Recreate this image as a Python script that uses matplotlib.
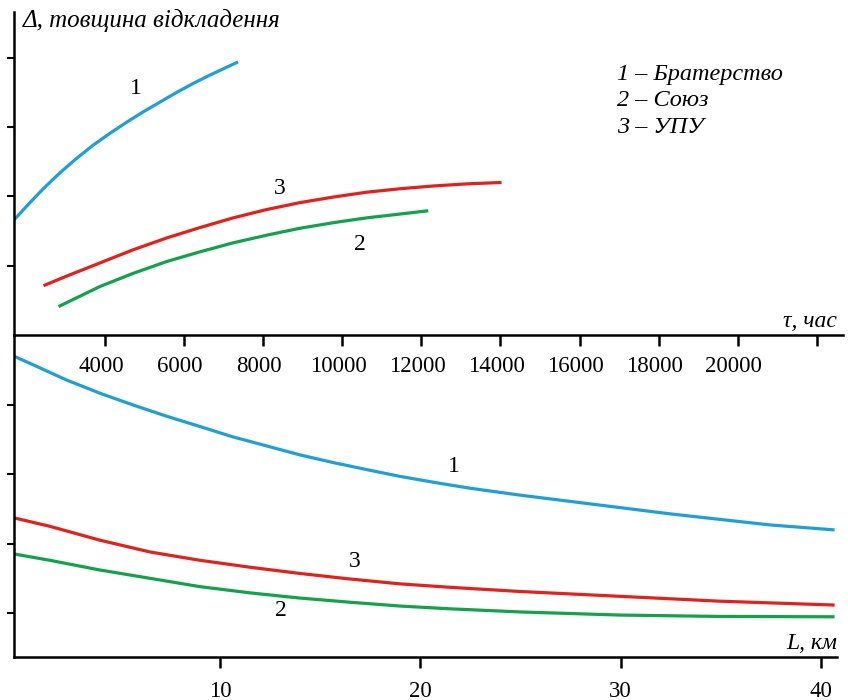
import matplotlib.pyplot as plt
import matplotlib.transforms as mtransforms
import numpy as np

# top panel: thickness vs time (tau, hours)
tau_1 = [1700, 2104, 2440, 2862, 3285, 3704, 4126, 4549, 4968, 5390, 5813, 6232, 6654, 7329]
top_1 = [1.66, 1.91, 2.11, 2.34, 2.55, 2.74, 2.91, 3.07, 3.22, 3.36, 3.50, 3.63, 3.75, 3.93]
tau_3 = [2483, 3032, 3874, 4715, 5560, 6402, 7243, 8088, 8930, 9771, 10616, 11458, 12299, 13144, 13986]
top_3 = [0.72, 0.85, 1.04, 1.23, 1.40, 1.55, 1.69, 1.81, 1.91, 1.99, 2.06, 2.11, 2.15, 2.18, 2.20]
tau_2 = [2862, 3874, 4715, 5560, 6402, 7243, 8088, 8930, 9771, 10616, 11458, 12133]
top_2 = [0.42, 0.70, 0.89, 1.06, 1.20, 1.33, 1.44, 1.54, 1.62, 1.69, 1.745, 1.79]
tau_ticks = [4000, 6000, 8000, 10000, 12000, 14000, 16000, 18000, 20000, 22000]
tau_labels = ['4000', '6000', '8000', '10000', '12000', '14000', '16000', '18000', '20000', '']

# bottom panel: thickness vs distance (L, km)
L_1 = [-0.25, 0.68, 2.35, 4.01, 5.67, 7.32, 9.0, 10.65, 12.33, 14.0, 15.65, 17.3, 18.99,
       20.98, 22.48, 24.98, 27.47, 29.97, 32.47, 34.96, 37.46, 40.6]
bot_1 = [4.70, 4.58, 4.36, 4.17, 4.00, 3.84, 3.69, 3.54, 3.41, 3.28, 3.17, 3.07, 2.97,
         2.87, 2.80, 2.70, 2.61, 2.52, 2.43, 2.35, 2.27, 2.20]
L_3 = [-0.25, 1.51, 4.01, 6.51, 9.0, 11.5, 14.0, 16.49, 18.99, 21.5, 24.98, 29.97, 34.96, 40.6]
bot_3 = [2.37, 2.25, 2.05, 1.88, 1.76, 1.66, 1.57, 1.49, 1.42, 1.37, 1.31, 1.24, 1.17, 1.115]
L_2 = [-0.25, 1.51, 4.01, 6.51, 9.0, 11.5, 14.0, 16.49, 18.99, 21.5, 24.98, 29.97, 34.96, 40.6]
bot_2 = [1.85, 1.76, 1.62, 1.50, 1.38, 1.29, 1.215, 1.155, 1.10, 1.06, 1.015, 0.97, 0.95, 0.945]
L_ticks = [10, 20, 30, 40]

legend_lines = ['1 – Братерство', '2 – Союз', '3 – УПУ']

c_blue = '#1f9fd5'
c_red = '#e3211c'
c_green = '#13a14b'

plt.rcParams['font.family'] = ['Liberation Serif', 'DejaVu Serif']

fig = plt.figure(figsize=(8.48, 7.0), dpi=100)
W, H = 848, 700
ax_top = fig.add_axes([14 / W, (H - 335) / H, (843 - 14) / W, (335 - 12) / H])
ax_bot = fig.add_axes([14 / W, (H - 657) / H, (837 - 14) / W, (657 - 335) / H])
ax_bot.patch.set_visible(False)
ax_top.patch.set_visible(False)

lw = 2.3
ax_top.plot(tau_1, top_1, color=c_blue, lw=lw)
ax_top.plot(tau_3, top_3, color=c_red, lw=lw)
ax_top.plot(tau_2, top_2, color=c_green, lw=lw)
ax_bot.plot(L_1, bot_1, color=c_blue, lw=lw)
ax_bot.plot(L_3, bot_3, color=c_red, lw=lw)
ax_bot.plot(L_2, bot_2, color=c_green, lw=lw)

ax_top.set_xlim(1700, 22660)
ax_top.set_ylim(0, 4.66)
ax_bot.set_xlim(-0.28, 40.8)
ax_bot.set_ylim(0.365, 5.01)

for ax in (ax_top, ax_bot):
    ax.spines['top'].set_visible(False)
    ax.spines['right'].set_visible(False)
    ax.spines['left'].set_linewidth(1.8)
    ax.spines['bottom'].set_linewidth(1.8)
    ax.set_yticks([1, 2, 3, 4])
    ax.set_yticklabels([])
    ax.tick_params(axis='y', direction='out', length=5, width=1.5)
    ax.tick_params(axis='x', direction='out', length=8, width=1.8, labelsize=16.5, pad=7)

ax_top.set_xticks(tau_ticks)
ax_top.set_xticklabels(tau_labels)
ax_bot.set_xticks(L_ticks)
ax_bot.set_xticklabels([str(v) for v in L_ticks])
ax_bot.tick_params(axis='x', pad=9)

# labels under the time axis sit a little left of their ticks
shift = mtransforms.ScaledTranslation(-4 / 100, 0, fig.dpi_scale_trans)
for lab in ax_top.get_xticklabels():
    lab.set_transform(lab.get_transform() + shift)

# axis captions
ax_top.text(0.011, 0.975, 'Δ, товщина відкладення', transform=ax_top.transAxes,
            fontsize=18, style='italic', ha='left', va='center')
ax_top.text(0.993, 0.01, 'τ, час', transform=ax_top.transAxes,
            fontsize=17, style='italic', ha='right', va='bottom')
ax_bot.text(1.0, 0.01, 'L, км', transform=ax_bot.transAxes,
            fontsize=17, style='italic', ha='right', va='bottom')

# curve numbers
ax_top.text(4784, 3.56, '1', fontsize=17, ha='center', va='center')
ax_top.text(8424, 2.11, '3', fontsize=17, ha='center', va='center')
ax_top.text(10446, 1.30, '2', fontsize=17, ha='center', va='center')
ax_bot.text(21.7, 3.11, '1', fontsize=17, ha='center', va='center')
ax_bot.text(16.74, 1.74, '3', fontsize=17, ha='center', va='center')
ax_bot.text(13.05, 1.04, '2', fontsize=17, ha='center', va='center')

# legend text
for i, s in enumerate(legend_lines):
    ax_top.text(0.727, 0.807 - i * 0.082, s, transform=ax_top.transAxes,
                fontsize=17.5, style='italic', ha='left', va='center')

fig.savefig('out.png', dpi=100)
